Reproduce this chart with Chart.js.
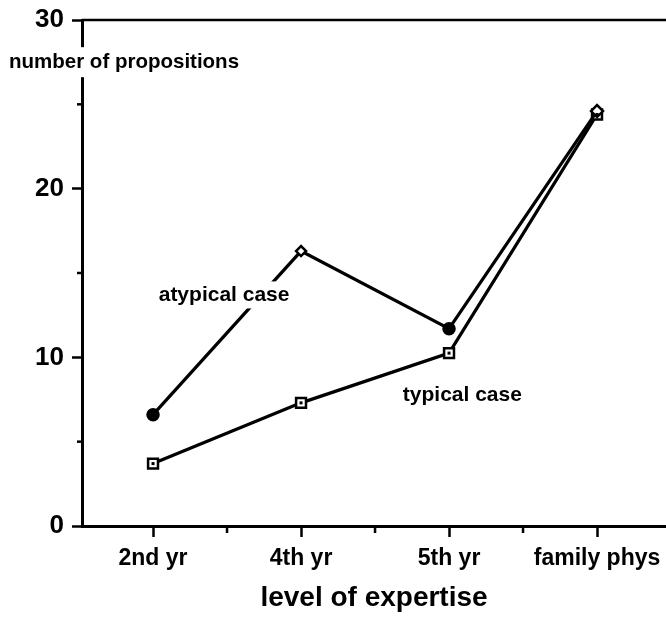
<!DOCTYPE html>
<html>
<head>
<meta charset="utf-8">
<script src="https://cdn.jsdelivr.net/npm/chart.js@4.4.1/dist/chart.umd.min.js"></script>
<style>
  html, body { margin: 0; padding: 0; background: #fff; }
</style>
</head>
<body>
<canvas id="expertiseChart" width="666" height="617"></canvas>
<script>
// data
const levels = ['2nd yr', '4th yr', '5th yr', 'family phys'];
const atypicalCase = [6.6, 16.3, 11.7, 24.6];
const typicalCase = [3.7, 7.3, 10.25, 24.4];
const yTicks = [0, 10, 20, 30];
const yMinorTicks = [5, 15, 25];
const xMinorTicks = [0.5, 1.5, 2.5];

const FONT = "'Liberation Sans', Arial, sans-serif";
const INK = '#000';

// labels drawn on the plot, placed in data units
const notes = [
  { text: 'atypical case', x: 0.48, y: 13.7, size: 21 },
  { text: 'typical case', x: 2.09, y: 7.77, size: 21 }
];

const extras = {
  id: 'extras',
  afterDraw(chart) {
    const ctx = chart.ctx;
    const xs = chart.scales.x;
    const ys = chart.scales.y;
    const area = chart.chartArea;
    ctx.save();
    ctx.strokeStyle = INK;
    ctx.lineWidth = 2.5;

    // top frame line at 30
    const yTop = ys.getPixelForValue(30);
    ctx.beginPath();
    ctx.moveTo(area.left, yTop);
    ctx.lineTo(area.right, yTop);
    ctx.stroke();

    // minor ticks
    yMinorTicks.forEach(v => {
      const py = ys.getPixelForValue(v);
      ctx.beginPath();
      ctx.moveTo(area.left, py);
      ctx.lineTo(area.left - 5, py);
      ctx.stroke();
    });
    xMinorTicks.forEach(v => {
      const px = xs.getPixelForValue(v);
      ctx.beginPath();
      ctx.moveTo(px, area.bottom);
      ctx.lineTo(px, area.bottom + 7);
      ctx.stroke();
    });

    // dot inside the typical-case squares
    chart.getDatasetMeta(1).data.forEach(pt => {
      ctx.fillStyle = INK;
      ctx.fillRect(pt.x - 1.5, pt.y - 1.5, 3, 3);
    });

    // text with white background that cuts the lines
    ctx.textBaseline = 'middle';
    notes.forEach(n => {
      ctx.font = 'bold ' + n.size + 'px ' + FONT;
      const w = ctx.measureText(n.text).width;
      const px = xs.getPixelForValue(n.x);
      const py = ys.getPixelForValue(n.y);
      ctx.fillStyle = '#fff';
      ctx.fillRect(px - w / 2 - 4, py - n.size / 2 - 3, w + 8, n.size + 6);
      ctx.fillStyle = INK;
      ctx.textAlign = 'center';
      ctx.fillText(n.text, px, py);
    });

    // horizontal y-axis title crossing the axis line
    ctx.font = 'bold 20.5px ' + FONT;
    const ty = ys.getPixelForValue(27.5);
    const tw = ctx.measureText('number of propositions').width;
    ctx.fillStyle = '#fff';
    ctx.fillRect(6, ty - 15, tw + 6, 30);
    ctx.fillStyle = INK;
    ctx.textAlign = 'left';
    ctx.fillText('number of propositions', 9, ty);
    ctx.restore();
  }
};

const ctx = document.getElementById('expertiseChart').getContext('2d');
new Chart(ctx, {
  type: 'line',
  data: {
    datasets: [
      {
        label: 'atypical case',
        data: atypicalCase.map((v, i) => ({ x: i, y: v })),
        borderColor: INK,
        borderWidth: 3.2,
        pointStyle: ['circle', 'rectRot', 'circle', 'rectRot'],
        pointRadius: [5.5, 5, 5.5, 6],
        pointBackgroundColor: [INK, '#fff', INK, '#fff'],
        pointBorderColor: INK,
        pointBorderWidth: 2.5,
        tension: 0
      },
      {
        label: 'typical case',
        data: typicalCase.map((v, i) => ({ x: i, y: v })),
        borderColor: INK,
        borderWidth: 3.2,
        pointStyle: 'rect',
        pointRadius: 7,
        pointBackgroundColor: '#fff',
        pointBorderColor: INK,
        pointBorderWidth: 2.5,
        tension: 0
      }
    ]
  },
  options: {
    responsive: false,
    animation: false,
    layout: { autoPadding: false, padding: { top: 20, right: 0, left: 0, bottom: 0 } },
    plugins: {
      legend: { display: false },
      tooltip: { enabled: false }
    },
    scales: {
      x: {
        type: 'linear',
        min: -0.48,
        max: 3.466,
        afterBuildTicks: scale => { scale.ticks = levels.map((_, i) => ({ value: i })); },
        afterFit: scale => {
          scale.height = 91;
          scale.paddingLeft = 0;
          scale.paddingRight = 0;
        },
        ticks: {
          callback: v => levels[v],
          color: INK,
          font: { family: FONT, size: 23, weight: 'bold' },
          padding: 8,
          autoSkip: false,
          maxRotation: 0
        },
        grid: { drawOnChartArea: false, tickLength: 11, tickWidth: 2.5, tickColor: INK },
        border: { color: INK, width: 3 },
        title: {
          display: true,
          text: 'level of expertise',
          color: INK,
          font: { family: FONT, size: 28, weight: 'bold' },
          padding: { top: 0, bottom: 2 }
        }
      },
      y: {
        min: 0,
        max: 30,
        afterBuildTicks: scale => { scale.ticks = yTicks.map(v => ({ value: v })); },
        afterFit: scale => {
          scale.width = 82;
          scale.paddingTop = 0;
          scale.paddingBottom = 0;
        },
        ticks: {
          color: INK,
          font: { family: FONT, size: 26, weight: 'bold' },
          padding: 8
        },
        grid: { drawOnChartArea: false, tickLength: 10, tickWidth: 2.5, tickColor: INK },
        border: { color: INK, width: 3 }
      }
    }
  },
  plugins: [extras]
});
</script>
</body>
</html>
